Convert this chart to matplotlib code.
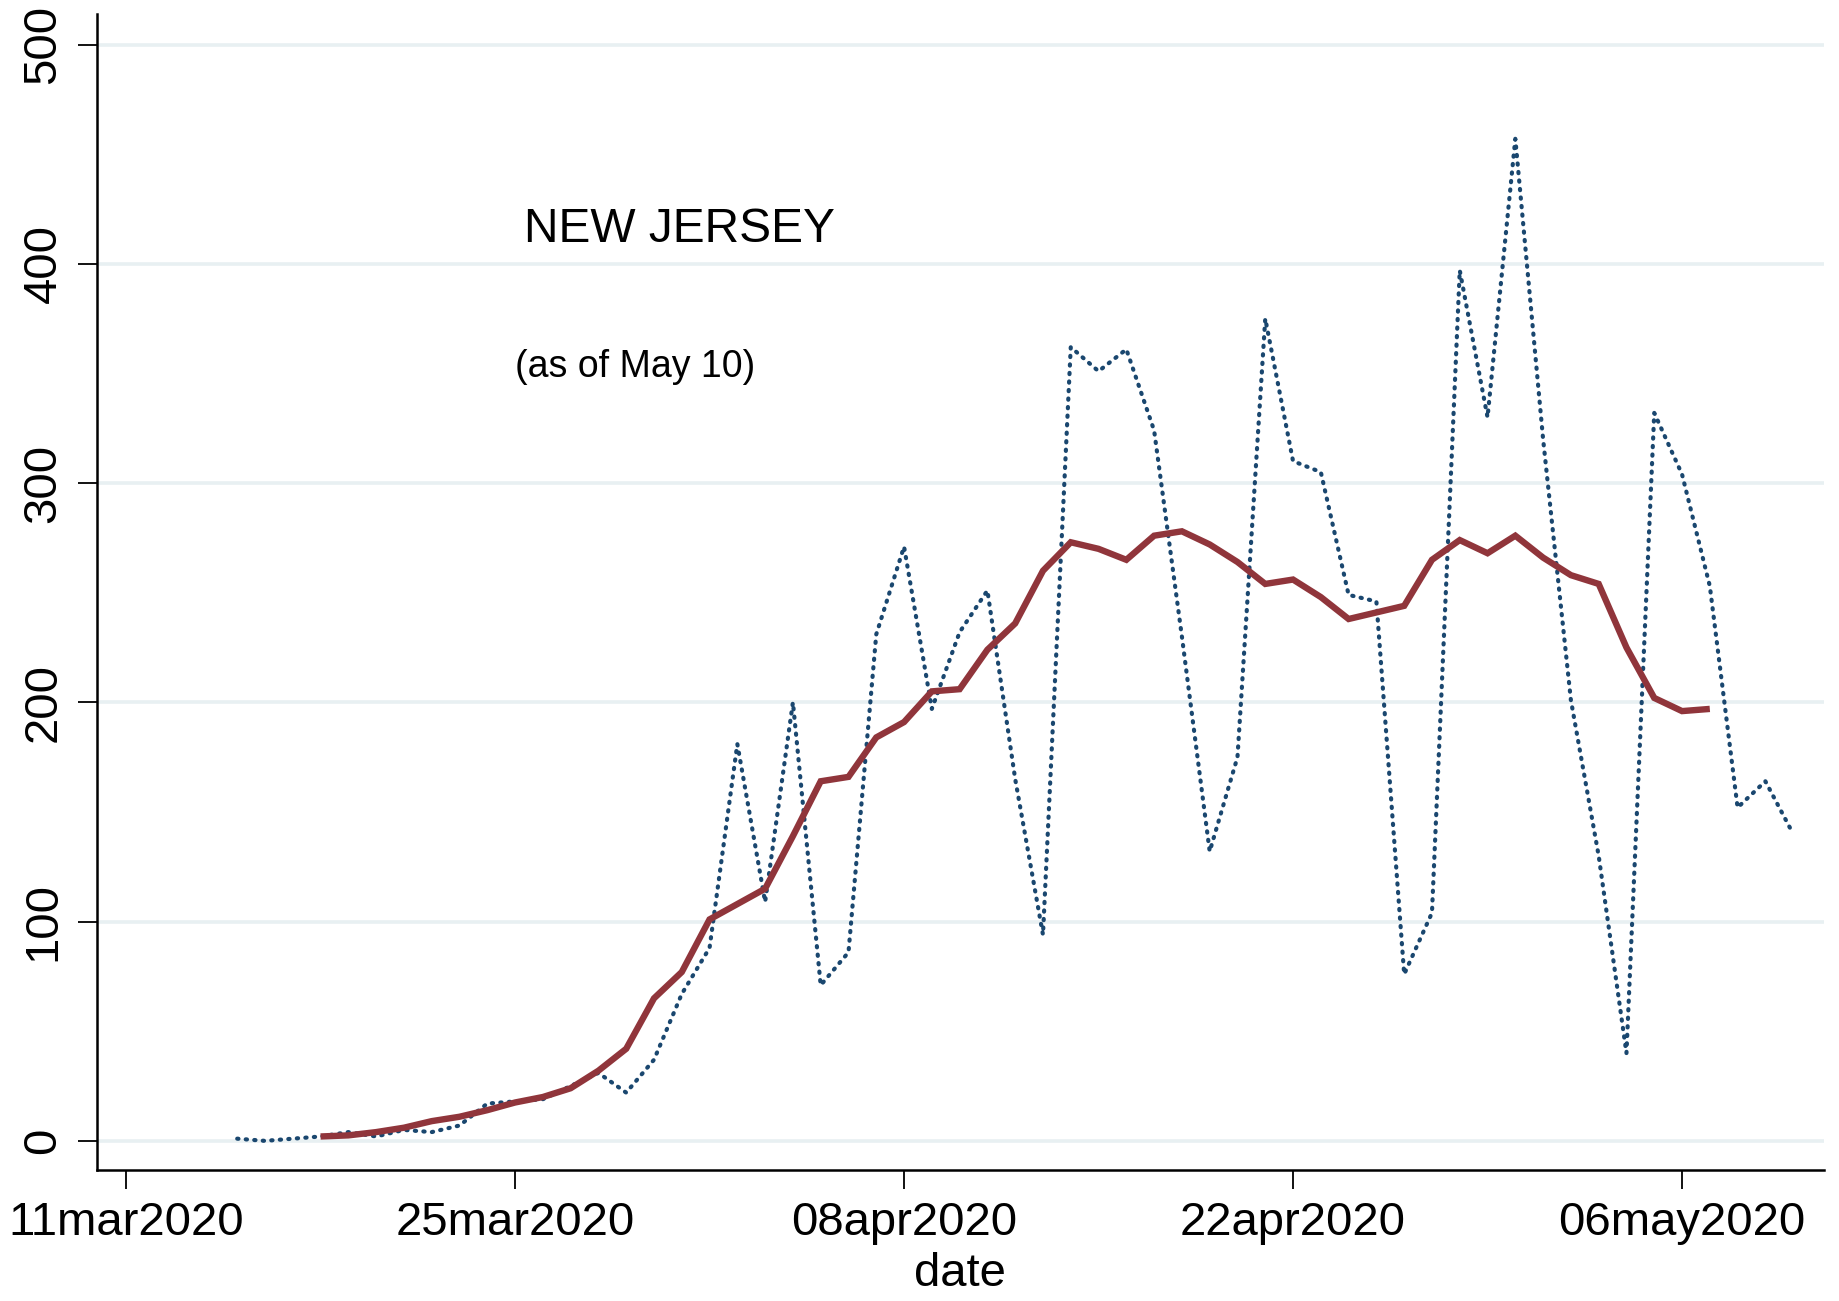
import matplotlib
matplotlib.use("Agg")
import matplotlib.pyplot as plt
import matplotlib.dates as mdates
import pandas as pd

plt.rcParams['font.family'] = ['Liberation Sans', 'DejaVu Sans']

# Daily values (Mar 15 - May 10, 2020)
daily_dates = pd.date_range("2020-03-15", "2020-05-10", freq="D")
daily_values = [1, 0, 1, 2, 4, 2, 5, 4, 7, 17, 18, 19, 25, 31, 22, 37, 67, 88,
                181, 109, 200, 71, 86, 231, 271, 197, 232, 251, 165, 94, 362,
                351, 361, 324, 230, 132, 175, 375, 310, 305, 249, 246, 76, 104,
                397, 330, 457, 320, 201, 130, 40, 332, 304, 253, 152, 164, 140]

# 7-day moving average (Mar 18 - May 7, 2020)
ma_dates = pd.date_range("2020-03-18", "2020-05-07", freq="D")
ma_values = [2, 2.5, 4, 6, 9, 11, 14, 17.5, 20, 24, 32, 42, 65, 77, 101, 108,
             115, 139, 164, 166, 184, 191, 205, 206, 224, 236, 260, 273, 270,
             265, 276, 278, 272, 264, 254, 256, 248, 238, 241, 244, 265, 274,
             268, 276, 266, 258, 254, 225, 202, 196, 197]

xtick_dates = ["2020-03-11", "2020-03-25", "2020-04-08", "2020-04-22", "2020-05-06"]
xtick_labels = ["11mar2020", "25mar2020", "08apr2020", "22apr2020", "06may2020"]
yticks = [0, 100, 200, 300, 400, 500]

title_text = "NEW JERSEY"
subtitle_text = "(as of May 10)"
xlabel_text = "date"

fig = plt.figure(figsize=(18.39, 13.01), dpi=100)
ax = fig.add_axes([0.0526, 0.1005, 0.9391, 0.8887])

ax.plot(daily_dates, daily_values, color="#1a476f", linewidth=3.0,
        dashes=(0.3, 1.75), dash_capstyle="round", zorder=3)
ax.plot(ma_dates, ma_values, color="#90353b", linewidth=4.6,
        solid_joinstyle="miter", solid_capstyle="butt", zorder=4)

base = mdates.date2num(pd.Timestamp("2020-03-11"))
ax.set_xlim(base - 1.056, base + 61.1)
ax.set_ylim(-13.4, 513.9)

ax.set_xticks([pd.Timestamp(d) for d in xtick_dates])
ax.set_xticklabels(xtick_labels)
ax.set_yticks(yticks)
ax.set_yticklabels([str(v) for v in yticks], rotation=90, va="center")

ax.grid(axis="y", color="#e8f0f2", linewidth=2.6, zorder=0)
ax.grid(axis="x", visible=False)
ax.set_axisbelow(True)

for s in ["top", "right"]:
    ax.spines[s].set_visible(False)
for s in ["left", "bottom"]:
    ax.spines[s].set_linewidth(1.8)
    ax.spines[s].set_color("black")

ax.tick_params(axis="both", which="major", length=13.5, width=1.3,
               labelsize=34, color="black")
ax.tick_params(axis="x", pad=9)
ax.tick_params(axis="y", pad=9)

ax.set_xlabel(xlabel_text, fontsize=34)
ax.xaxis.set_label_coords(0.5, -0.071)

fig.text(0.3696, 0.8142, title_text, fontsize=34.5, ha="center", va="baseline")
fig.text(0.3453, 0.7102, subtitle_text, fontsize=27, ha="center", va="baseline")

fig.savefig("out.png", dpi=100, facecolor="white")
